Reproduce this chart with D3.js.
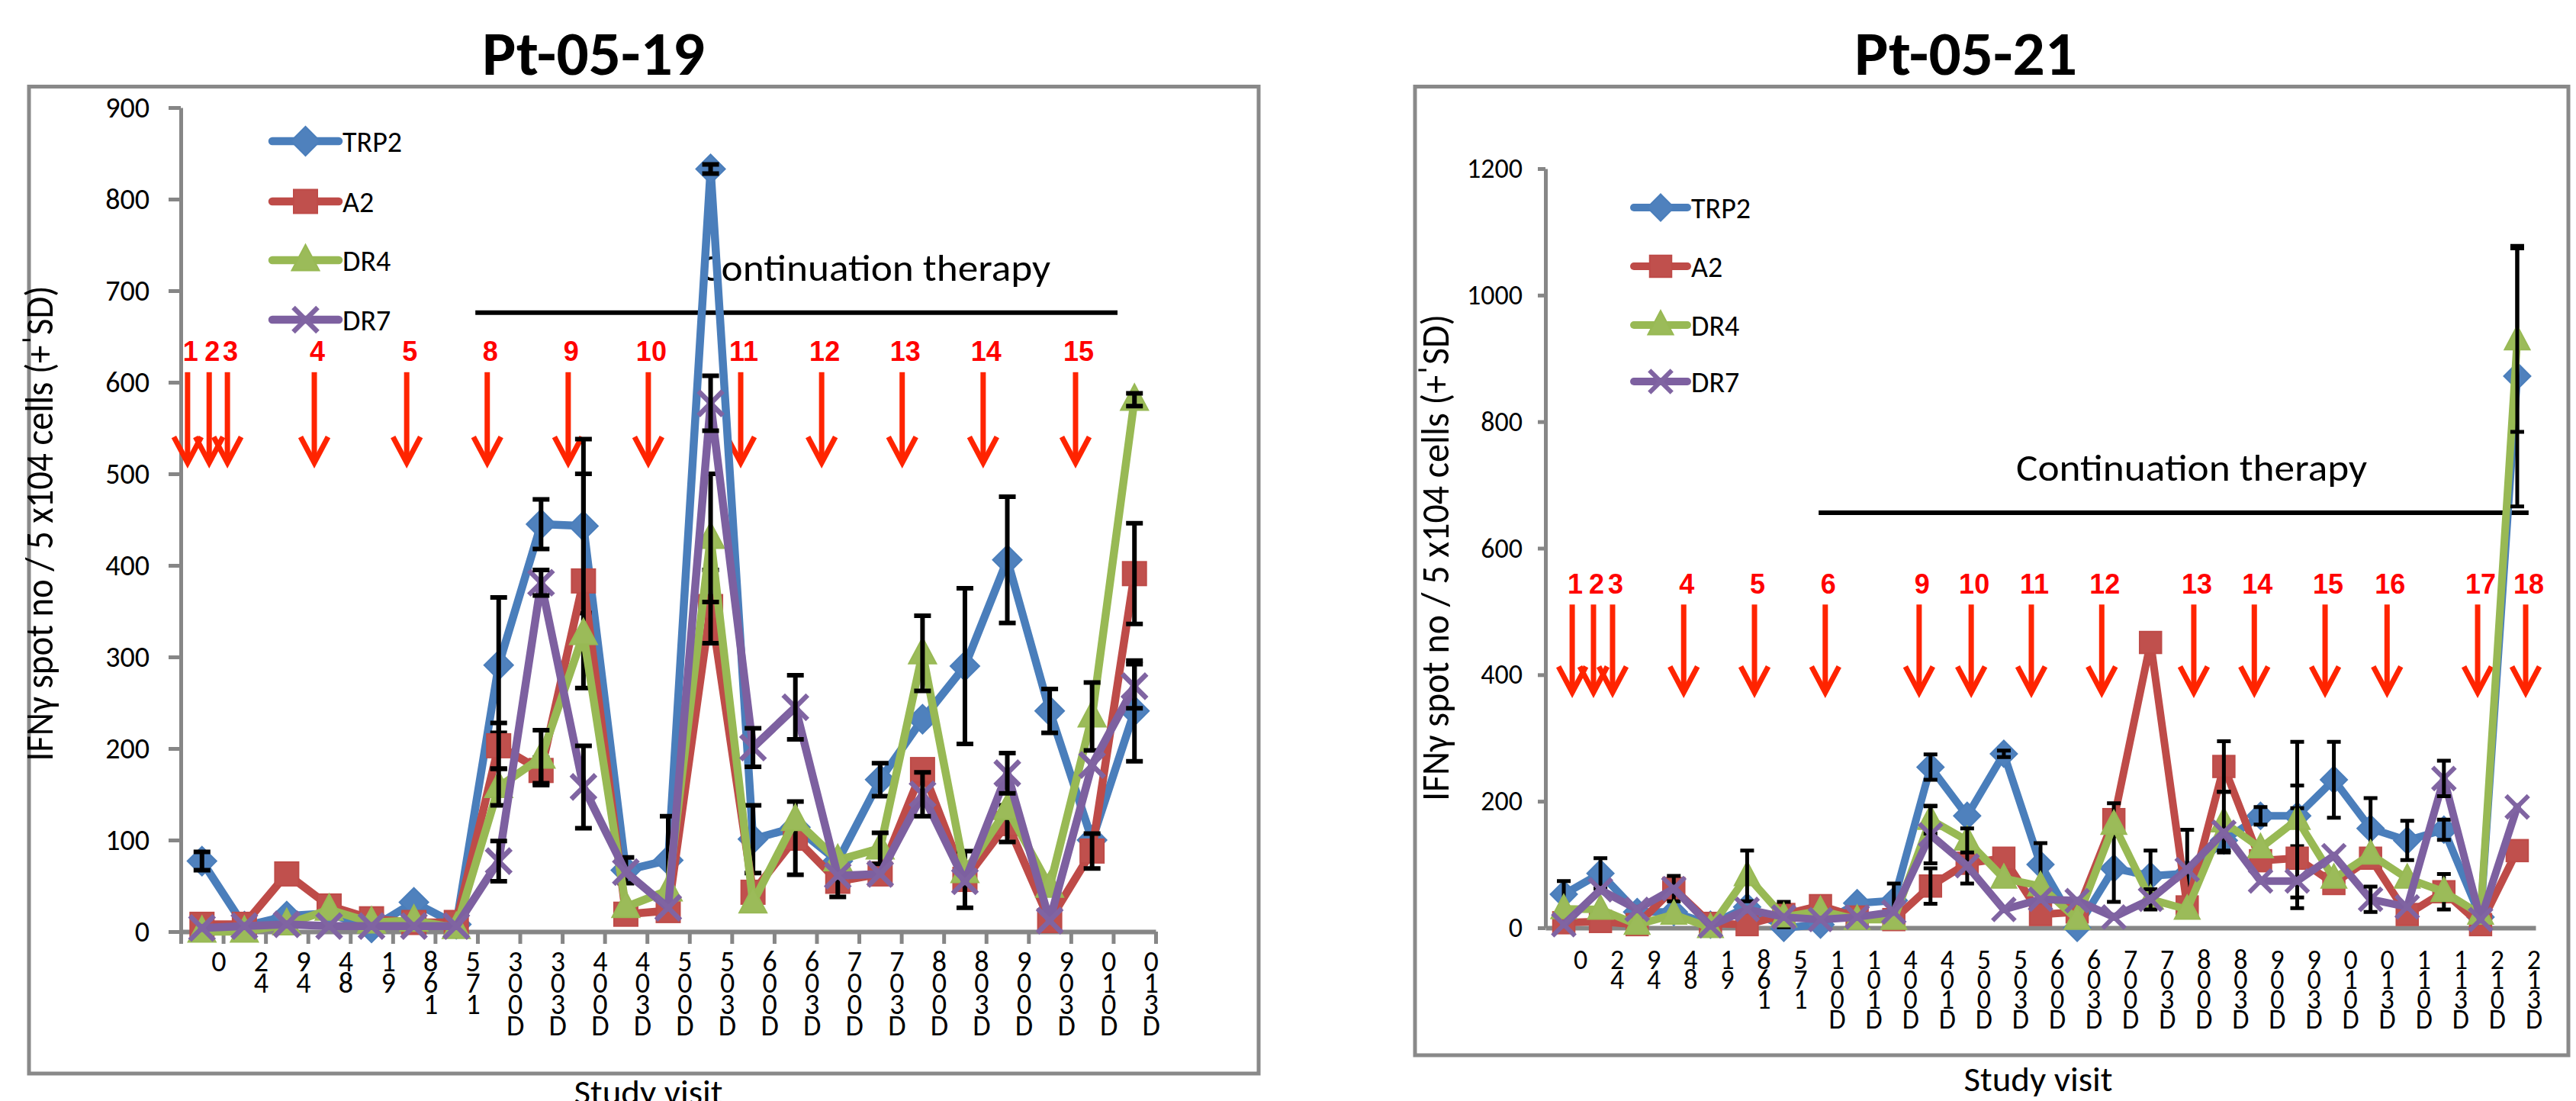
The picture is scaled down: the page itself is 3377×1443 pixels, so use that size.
<!DOCTYPE html>
<html>
<head>
<meta charset="utf-8">
<script src="https://cdn.jsdelivr.net/npm/d3@7"></script>
<style>
  html, body { margin: 0; padding: 0; background: #fff; }
  svg { display: block; }
</style>
</head>
<body>
<svg id="fig" width="3377" height="1443"></svg>
<script>
// ---------------- data ----------------
const seriesNames = ["TRP2", "A2", "DR4", "DR7"];

// Pt-05-19
const visits0519 = ["0","24","94","48","19","861","571","300D","303D","400D","403D","500D","503D",
  "600D","603D","700D","703D","800D","803D","900D","903D","010D","013D"];
const trp2_0519 = [77, 6, 17, 20, 4, 32, 8, 291, 445, 443, 67, 78, 833, 101, 114, 77, 166, 232, 290, 406, 241, 100, 241];
const a2_0519   = [8, 8, 63, 28, 14, 10, 10, 203, 176, 383, 19, 23, 355, 43, 102, 55, 63, 177, 57, 118, 12, 88, 391];
const dr4_0519  = [0, 0, 8, 24, 10, 12, 4, 158, 190, 325, 27, 45, 430, 32, 122, 78, 91, 304, 65, 134, 49, 235, 581];
const dr7_0519  = [4, 6, 8, 6, 6, 6, 6, 77, 381, 158, 65, 26, 577, 201, 245, 61, 63, 150, 55, 173, 12, 182, 268];
const trp2Sd_0519 = [10, 0, 0, 0, 0, 0, 0, 74, 27, 95, 14, 48, 5, 37, 0, 0, 18, 0, 85, 69, 24, 0, 55];
const a2Sd_0519   = [0, 0, 0, 0, 0, 0, 0, 25, 14, 117, 0, 0, 40, 0, 40, 17, 0, 0, 31, 20, 0, 19, 55];
const dr4Sd_0519  = [0, 0, 0, 0, 0, 0, 0, 20, 30, 0, 0, 0, 70, 0, 0, 0, 17, 41, 0, 0, 0, 37, 7];
const dr7Sd_0519  = [0, 0, 0, 0, 0, 0, 0, 22, 14, 45, 0, 0, 30, 21, 35, 0, 0, 24, 0, 22, 0, 0, 24];
const yTicks0519 = [0, 100, 200, 300, 400, 500, 600, 700, 800, 900];
// vaccination time points, in visit-index units
const vaccinations0519 = [-0.34, 0.17, 0.60, 2.65, 4.83, 6.73, 8.64, 10.53, 12.71, 14.62, 16.52, 18.43, 20.61];
const vaccinationLabels0519 = ["1","2","3","4","5","8","9","10","11","12","13","14","15"];
const continuation0519 = [6.45, 21.6];

// Pt-05-21
const visits0521 = ["0","24","94","48","19","861","571","100D","101D","400D","401D","500D","503D",
  "600D","603D","700D","703D","800D","803D","900D","903D","010D","013D","110D","113D","210D","213D"];
const trp2_0521 = [53, 86, 25, 25, 5, 33, 0, 5, 39, 43, 254, 177, 275, 100, 0, 94, 82, 86, 138, 177, 177, 234, 157, 138, 155, 17, 872];
const a2_0521   = [8, 10, 5, 62, 7, 5, 21, 35, 17, 13, 66, 102, 110, 21, 25, 171, 451, 33, 255, 106, 110, 70, 110, 21, 57, 5, 122];
const dr4_0521  = [30, 29, 5, 21, 0, 82, 17, 27, 13, 13, 171, 138, 78, 66, 13, 163, 45, 29, 167, 126, 171, 78, 116, 78, 57, 21, 929];
const dr7_0521  = [5, 60, 29, 62, 3, 29, 17, 13, 17, 25, 147, 98, 29, 45, 43, 17, 45, 92, 151, 74, 74, 114, 45, 33, 236, 13, 191];
const trp2Sd_0521 = [21, 24, 0, 0, 0, 0, 0, 0, 0, 27, 20, 0, 5, 34, 0, 53, 40, 69, 16, 14, 48, 60, 48, 31, 16, 0, 206];
const a2Sd_0521   = [0, 0, 0, 20, 0, 0, 20, 0, 0, 0, 28, 32, 0, 0, 0, 26, 0, 0, 40, 0, 79, 0, 0, 0, 28, 0, 0];
const dr4Sd_0521  = [0, 0, 0, 0, 0, 40, 0, 0, 0, 0, 22, 19, 0, 0, 0, 0, 16, 0, 48, 0, 123, 0, 0, 0, 0, 0, 145];
const dr7Sd_0521  = [0, 0, 0, 0, 0, 0, 0, 0, 0, 0, 45, 0, 0, 0, 0, 0, 0, 0, 0, 0, 0, 0, 20, 0, 28, 0, 0];
const yTicks0521 = [0, 200, 400, 600, 800, 1000, 1200];
const vaccinations0521 = [0.23, 0.81, 1.33, 3.27, 5.20, 7.13, 9.69, 11.11, 12.75, 14.67, 17.18, 18.83, 20.76, 22.45, 24.92, 26.23];
const vaccinationLabels0521 = ["1","2","3","4","5","6","9","10","11","12","13","14","15","16","17","18"];
const continuation0521 = [6.95, 26.31];

// ---------------- styles ----------------
const FONT = "Carlito, Lato, 'Open Sans', sans-serif";
const ARIAL = "'Liberation Sans', Arial, sans-serif";
const lineColors   = { TRP2: "#4A7EBB", A2: "#BE4B48", DR4: "#98B954", DR7: "#7D60A0" };
const markerColors = { TRP2: "#4F81BD", A2: "#C0504D", DR4: "#9BBB59", DR7: "#8064A2" };
const markerShapes = { TRP2: "diamond", A2: "square", DR4: "triangle", DR7: "cross" };
const AXIS_GREY = "#868686";
const ARROW_RED = "#FF2400";
const LABEL_RED = "#FF0000";

const svg = d3.select("#fig");

function drawMarker(sel, name, cx, cy, k) {
  const shape = markerShapes[name];
  const c = markerColors[name];
  if (shape === "diamond") {
    const r = 19 * k;
    sel.append("path").attr("d", `M${cx},${cy - r}L${cx + r},${cy}L${cx},${cy + r}L${cx - r},${cy}Z`)
      .attr("fill", c).attr("stroke", lineColors[name]).attr("stroke-width", 2);
  } else if (shape === "square") {
    const s = 31 * k;
    sel.append("rect").attr("x", cx - s / 2).attr("y", cy - s / 2).attr("width", s).attr("height", s)
      .attr("fill", c).attr("stroke", lineColors[name]).attr("stroke-width", 2);
  } else if (shape === "triangle") {
    const w = 18 * k, h = 34 * k;
    sel.append("path").attr("d", `M${cx},${cy - h * 0.6}L${cx + w},${cy + h * 0.4}L${cx - w},${cy + h * 0.4}Z`)
      .attr("fill", c).attr("stroke", lineColors[name]).attr("stroke-width", 2);
  } else {
    const r = 16 * k;
    sel.append("path").attr("d", `M${cx - r},${cy - r}L${cx + r},${cy + r}M${cx - r},${cy + r}L${cx + r},${cy - r}`)
      .attr("fill", "none").attr("stroke", c).attr("stroke-width", 6.5 * k);
  }
}

function drawChart(cfg) {
  const g = svg.append("g");
  const n = cfg.visits.length;
  const x = d3.scaleLinear().domain([-0.5, n - 0.5]).range(cfg.xRange);
  const y = d3.scaleLinear().domain([0, cfg.yMax]).range(cfg.yRange);

  // chart frame
  g.append("rect")
    .attr("x", cfg.frame[0]).attr("y", cfg.frame[1])
    .attr("width", cfg.frame[2]).attr("height", cfg.frame[3])
    .attr("fill", "#fff").attr("stroke", "#898989").attr("stroke-width", 5);

  // title
  g.append("text")
    .attr("x", cfg.titleX).attr("y", 98)
    .attr("text-anchor", "middle")
    .attr("font-family", FONT).attr("font-weight", "bold").attr("font-size", 80)
    .attr("textLength", 292).attr("lengthAdjust", "spacingAndGlyphs")
    .text(cfg.title);

  // y axis
  const yAxis = d3.axisLeft(y).tickValues(cfg.yTicks).tickSize(cfg.yTickLen)
    .tickSizeOuter(0).tickPadding(cfg.yPad).tickFormat(d3.format("d"));
  const ya = g.append("g").attr("transform", `translate(${cfg.xRange[0]},0)`).call(yAxis);
  ya.select(".domain").attr("stroke", AXIS_GREY).attr("stroke-width", 5);
  ya.selectAll(".tick line").attr("stroke", AXIS_GREY).attr("stroke-width", 5);
  ya.selectAll(".tick text").attr("font-family", FONT).attr("font-size", cfg.yFont).attr("fill", "#000");

  // x axis (ticks between visits)
  const xAxis = d3.axisBottom(x).tickValues(d3.range(n + 1).map(i => i - 0.5))
    .tickFormat("").tickSize(cfg.xTickLen).tickSizeOuter(0);
  const xa = g.append("g").attr("transform", `translate(0,${cfg.yRange[0]})`).call(xAxis);
  xa.select(".domain").attr("stroke", AXIS_GREY).attr("stroke-width", 6);
  xa.selectAll(".tick line").attr("stroke", AXIS_GREY).attr("stroke-width", 5);

  // stacked visit labels
  const lab = g.append("g").attr("font-family", FONT).attr("font-size", cfg.labFont).attr("fill", "#000");
  cfg.visits.forEach((v, i) => {
    const t = lab.append("text").attr("x", x(i) + cfg.labOffset).attr("y", cfg.labY).attr("text-anchor", "middle");
    v.split("").forEach((ch, k) => {
      t.append("tspan").attr("x", x(i) + cfg.labOffset).attr("dy", k === 0 ? 0 : cfg.labRow).text(ch);
    });
  });

  // axis titles
  g.append("text")
    .attr("transform", `translate(${cfg.yTitleX},${cfg.yTitleY}) rotate(-90)`)
    .attr("text-anchor", "middle")
    .attr("font-family", FONT).attr("font-size", 52)
    .attr("textLength", cfg.yTitleLen).attr("lengthAdjust", "spacingAndGlyphs")
    .text("IFN\u03B3 spot no / 5 x104 cells (+\u02C8SD)");
  g.append("text")
    .attr("x", cfg.xTitleX).attr("y", cfg.xTitleY)
    .attr("text-anchor", "middle")
    .attr("font-family", FONT).attr("font-size", 45)
    .attr("textLength", 195).attr("lengthAdjust", "spacingAndGlyphs")
    .text("Study visit");

  // continuation therapy bar
  g.append("line")
    .attr("x1", x(cfg.continuation[0])).attr("x2", x(cfg.continuation[1]))
    .attr("y1", y(cfg.contY)).attr("y2", y(cfg.contY))
    .attr("stroke", "#000").attr("stroke-width", 6);
  g.append("text")
    .attr("x", x(cfg.contTextX)).attr("y", y(cfg.contTextY))
    .attr("text-anchor", "middle")
    .attr("font-family", FONT).attr("font-size", 49)
    .attr("textLength", 460).attr("lengthAdjust", "spacingAndGlyphs")
    .text("Continuation therapy");

  // vaccination arrows
  const arr = g.append("g");
  cfg.vaccinations.forEach((p, i) => {
    const ax = x(p), y0 = y(cfg.arrowTop), y1 = y(cfg.arrowTip);
    arr.append("line").attr("x1", ax).attr("x2", ax).attr("y1", y0).attr("y2", y1 - 3)
      .attr("stroke", ARROW_RED).attr("stroke-width", 7);
    arr.append("path").attr("d", `M${ax - 18},${y1 - 34}L${ax},${y1}L${ax + 18},${y1 - 34}`)
      .attr("fill", "none").attr("stroke", ARROW_RED).attr("stroke-width", 7)
      .attr("stroke-linejoin", "miter");
    arr.append("text").attr("x", ax + 4).attr("y", y(cfg.arrowLabel))
      .attr("text-anchor", "middle")
      .attr("font-family", ARIAL).attr("font-weight", "bold").attr("font-size", 36)
      .attr("fill", LABEL_RED)
      .text(cfg.vaccinationLabels[i]);
  });

  // series: line, markers, error bars
  const line = d3.line().x((d, i) => x(i)).y(d => y(d));
  cfg.series.forEach(s => {
    const sg = g.append("g");
    sg.append("path").attr("d", line(s.values))
      .attr("fill", "none").attr("stroke", lineColors[s.name])
      .attr("stroke-width", cfg.lineW).attr("stroke-linejoin", "round").attr("stroke-linecap", "round");
    s.values.forEach((v, i) => drawMarker(sg, s.name, x(i), y(v), cfg.mk));
    s.sd.forEach((e, i) => {
      if (!e) return;
      const cx = x(i), hi = y(s.values[i] + e), lo = y(s.values[i] - e), cw = cfg.capW / 2;
      sg.append("path")
        .attr("d", `M${cx},${hi}V${lo}M${cx - cw},${hi}H${cx + cw}M${cx - cw},${lo}H${cx + cw}`)
        .attr("fill", "none").attr("stroke", "#000").attr("stroke-width", cfg.errW);
    });
  });

  // legend
  const lg = g.append("g");
  cfg.series.forEach((s, i) => {
    const ly = cfg.legY[i];
    lg.append("line").attr("x1", cfg.legX[0]).attr("x2", cfg.legX[1]).attr("y1", ly).attr("y2", ly)
      .attr("stroke", lineColors[s.name]).attr("stroke-width", cfg.lineW).attr("stroke-linecap", "round");
    drawMarker(lg, s.name, (cfg.legX[0] + cfg.legX[1]) / 2, ly, cfg.mk);
    lg.append("text").attr("x", cfg.legX[2]).attr("y", ly + 14)
      .attr("font-family", FONT).attr("font-size", 38).text(s.name);
  });
}

drawChart({
  title: "Pt-05-19", titleX: 778,
  frame: [38, 113.5, 1612, 1293.5],
  visits: visits0519,
  xRange: [237, 1515], yRange: [1221, 141], yMax: 900, yTicks: yTicks0519,
  yTickLen: 16, yPad: 25, yFont: 38, xTickLen: 16,
  labOffset: 22, labY: 1273, labRow: 28, labFont: 38,
  yTitleX: 69, yTitleY: 686, yTitleLen: 623,
  xTitleX: 850, xTitleY: 1447,
  continuation: continuation0519, contY: 676, contTextX: 15.88, contTextY: 711,
  vaccinations: vaccinations0519, vaccinationLabels: vaccinationLabels0519,
  arrowTop: 611, arrowTip: 512, arrowLabel: 623,
  lineW: 10.5, mk: 1, capW: 22, errW: 6,
  legX: [357, 444, 449], legY: [185, 264, 341, 419],
  series: [
    { name: "TRP2", values: trp2_0519, sd: trp2Sd_0519 },
    { name: "A2",   values: a2_0519,   sd: a2Sd_0519 },
    { name: "DR4",  values: dr4_0519,  sd: dr4Sd_0519 },
    { name: "DR7",  values: dr7_0519,  sd: dr7Sd_0519 }
  ]
});

drawChart({
  title: "Pt-05-21", titleX: 2577,
  frame: [1855, 113.5, 1512, 1269.5],
  visits: visits0521,
  xRange: [2026, 3324], yRange: [1216, 221], yMax: 1200, yTicks: yTicks0521,
  yTickLen: 10, yPad: 20, yFont: 36, xTickLen: 0,
  labOffset: 22, labY: 1270, labRow: 26, labFont: 36,
  yTitleX: 1899, yTitleY: 731, yTitleLen: 638,
  xTitleX: 2672, xTitleY: 1430,
  continuation: continuation0521, contY: 656, contTextX: 17.12, contTextY: 707,
  vaccinations: vaccinations0521, vaccinationLabels: vaccinationLabels0521,
  arrowTop: 511, arrowTip: 372, arrowLabel: 528,
  lineW: 10, mk: 0.92, capW: 18, errW: 5,
  legX: [2142, 2212, 2217], legY: [272, 349, 426, 500],
  series: [
    { name: "TRP2", values: trp2_0521, sd: trp2Sd_0521 },
    { name: "A2",   values: a2_0521,   sd: a2Sd_0521 },
    { name: "DR4",  values: dr4_0521,  sd: dr4Sd_0521 },
    { name: "DR7",  values: dr7_0521,  sd: dr7Sd_0521 }
  ]
});
</script>
</body>
</html>
